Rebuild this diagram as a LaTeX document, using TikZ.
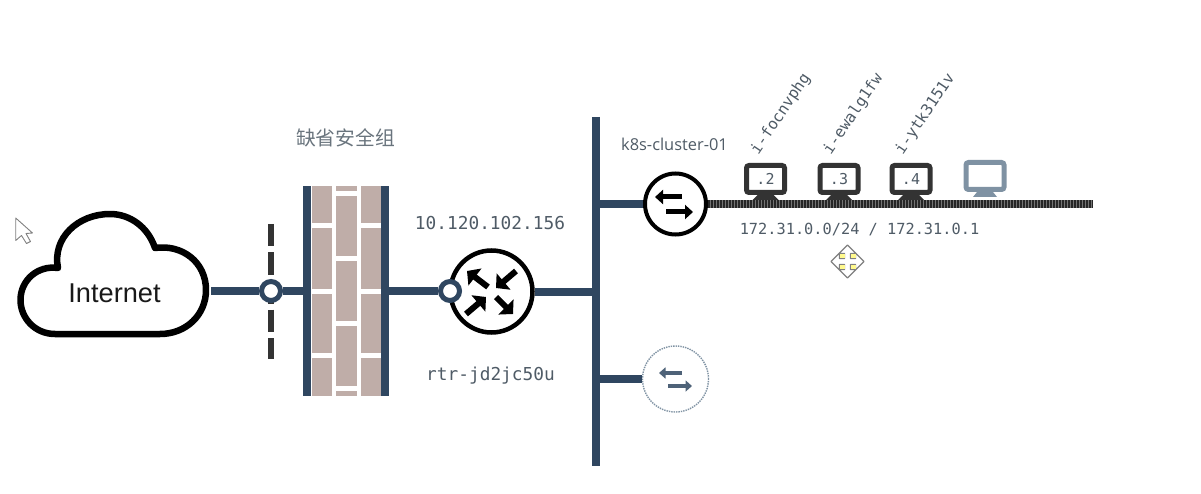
\documentclass[tikz,border=0pt]{standalone}
\usepackage{fontspec}
\usepackage{tikz}
\usetikzlibrary{arrows.meta}
\setmainfont{Liberation Sans}
\setmonofont{DejaVu Sans Mono}
\newfontfamily\labelfont{Open Sans}
\newfontfamily\cjk{Noto Sans CJK SC}
\definecolor{linkblue}{HTML}{2F4660}
\definecolor{brick}{HTML}{BFADA8}
\definecolor{labelgrey}{HTML}{4F5B66}
\definecolor{idlegrey}{HTML}{7F92A3}
\tikzset{
	net link/.style={
		draw=linkblue,
		line width=8pt
	},
	port ring/.style={
		circle,
		draw=linkblue,
		fill=white,
		line width=5pt,
		inner sep=0pt,
		minimum size=19pt
	},
	device/.style={
		circle,
		draw=black,
		fill=white,
		inner sep=0pt,
		line width=4.5pt
	},
	monitor/.style={
		rectangle,
		rounded corners=2.5pt,
		draw=#1,
		fill=white,
		line width=5pt,
		inner sep=0pt,
		minimum width=38pt,
		minimum height=27pt,
		text=labelgrey,
		font=\ttfamily\fontsize{15}{15}\selectfont
	},
	mono label/.style={
		text=labelgrey,
		inner sep=0pt,
		font=\ttfamily\fontsize{#1}{18}\selectfont
	},
}

\begin{document}
\begin{tikzpicture}[x=1pt,y=-1pt]
\useasboundingbox (0,0) rectangle (1201,494);

\coordinate (busTop) at (596,117);
\coordinate (busBottom) at (596,466);
\coordinate (cloudPort) at (211,291);
\coordinate (netEnd) at (1093,204);

% cloud
\node[inner sep=0pt,font=\fontsize{27.2}{30}\selectfont,text=black!90] (internet) at (114.5,293) {Internet};
\draw[line width=6.5pt,line join=round] (58,268) .. controls (52,238) and (78,214) .. (110,214) .. controls (130,214) and (148,227) .. (155,248)
	.. controls (182,244) and (206,262) .. (206,290) .. controls (206,315) and (186,334) .. (160,334)
	-- (55,334) .. controls (35,334) and (20.5,318) .. (20.5,300) .. controls (20.5,280) and (38,265) .. (58,268) -- cycle;

% dashed boundary and first port
\coordinate (gapTop) at (271,224);
\coordinate (gapBottom) at (271,359);
\draw[draw=black!80,line width=6.5pt,dash pattern=on 22.5pt off 6pt] (gapTop) -- (gapBottom);
\node[port ring] (portOut) at (271,291) {};

% firewall
\node[minimum width=86pt,minimum height=210pt,inner sep=0pt] (firewall) at (346,291) {};
\foreach \top/\bottom in {186/223,228/289,294/353,358/396}{
	\fill[brick] (312,\top) rectangle (332,\bottom);
	\fill[brick] (361,\top) rectangle (381,\bottom);
}
\foreach \top/\bottom in {186/191,196/256,261/321,326/386,391/396}{
	\fill[brick] (336,\top) rectangle (357,\bottom);
}
\fill[linkblue] (firewall.north west) rectangle ++(8.5,210);
\fill[linkblue] (firewall.north east) rectangle ++(-8.5,210);

\node[text=labelgrey!85,font=\cjk\fontsize{19.8}{22}\selectfont] (groupLabel) at (345.5,138) {缺省安全组};

% router
\node[device,minimum size=82pt] (router) at (491.5,291.5) {};
\foreach \a/\b/\c/\d in {488/287/467/271,516/271/496/288,466/314/486/297,496/297/513/314}{
	\draw[line width=6pt,-{Triangle[length=10pt,width=21pt]}] (\a,\b) -- (\c,\d);
}
\node[port ring] (portIn) at (450,291) {};
\node[mono label=17.8] (routerIp) at (490,223.5) {10.120.102.156};
\node[mono label=17.8] (routerName) at (490.5,376) {rtr-jd2jc50u};

% bus and switches
\draw[draw=linkblue,line width=8pt] (busTop) -- (busBottom);
\node[device,line width=4pt,minimum size=61pt] (switchA) at (675.5,204) {};
\node[circle,draw=idlegrey,fill=white,densely dotted,line width=1.4pt,inner sep=0pt,minimum size=66pt] (switchB) at (675.5,379) {};

\foreach \a/\b/\c/\d in {682/197/655/197,666/212/693/212}{
	\draw[line width=5pt,-{Triangle[length=8pt,width=14pt]}] (\a,\b) -- (\c,\d);
}
\foreach \a/\b/\c/\d in {682/373/659/373,668/386/692/386}{
	\draw[draw=linkblue!85,line width=4pt,-{Triangle[length=6.5pt,width=11pt]}] (\a,\b) -- (\c,\d);
}

\draw[net link] (cloudPort) -- (portOut);
\draw[net link] (portOut) -- (firewall.west);
\draw[net link] (firewall.east) -- (portIn);
\draw[net link] (router.east) -- (router.east -| busTop);
\draw[net link] (switchA.west) -- (switchA.west -| busTop);
\draw[net link] (switchB.west) -- (switchB.west -| busTop);
\draw[draw=black!55,line width=8pt,postaction={draw=black!85,dash pattern=on 2pt off 1pt}] (switchA.east) -- (netEnd);

\node[font=\labelfont\fontsize{16.4}{18}\selectfont,text=labelgrey,inner sep=0pt] (clusterName) at (674.5,144) {k8s-cluster-01};
\node[mono label=15.3] (subnet) at (859.5,230) {172.31.0.0/24 / 172.31.0.1};

% monitors
\foreach \name/\xpos/\ip/\host/\hostx in {vmA/765.5/.2/i-focnvphg/781,vmB/839/.3/i-ewalg1fw/853.5,vmC/911/.4/i-ytk3151v/925.5}{
	\node[monitor=black!80] (\name) at (\xpos,179) {\ip};
	\fill[black!80] (\xpos-8,195) -- (\xpos+8,195) -- (\xpos+13,200) -- (\xpos-13,200) -- cycle;
	\node[mono label=15.5,rotate=56] (\name label) at (\hostx,114) {\host};
}
\node[monitor=idlegrey] (vmFree) at (985,176) {};
\fill[idlegrey] (977,192) -- (993,192) -- (997,197) -- (973,197) -- cycle;

% pointer and move cursor
\draw[draw=black!50,fill=white,line width=0.9pt,line join=round] (15.7,218) -- (15.7,240.5) -- (21.5,235.5) -- (26.5,243.5) -- (30.5,241.5) -- (26,233.5) -- (32.5,233) -- cycle;
\draw[draw=black!50,fill=white,line width=1.1pt,line join=round] (847.5,245) -- (856,253.5) -- (850.5,253.5) -- (850.5,258.5) -- (855.5,258.5) -- (855.5,253) -- (864,261.5) -- (855.5,270) -- (855.5,264.5) -- (850.5,264.5) -- (850.5,269.5) -- (856,269.5) -- (847.5,278) -- (839,269.5) -- (844.5,269.5) -- (844.5,264.5) -- (839.5,264.5) -- (839.5,270) -- (831,261.5) -- (839.5,253) -- (839.5,258.5) -- (844.5,258.5) -- (844.5,253.5) -- (839,253.5) -- cycle;
\foreach \xpos/\ypos in {840/254,851/254,840/265,851/265}{
	\fill[yellow!45] (\xpos,\ypos) rectangle ++(4.5,4);
}
\end{tikzpicture}
\end{document}
